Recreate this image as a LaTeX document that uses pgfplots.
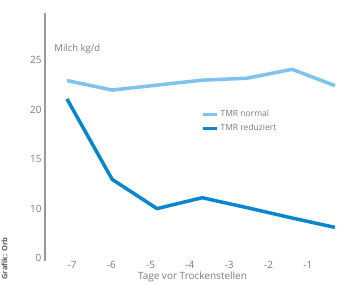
\documentclass[border=0pt]{standalone}
\usepackage{pgfplots}
\pgfplotsset{compat=1.18}
\usepackage{fontspec}
\setmainfont{Open Sans}
\definecolor{lightb}{HTML}{7EC2EE}
\definecolor{darkb}{HTML}{0A86CC}
\definecolor{txt}{HTML}{7A7A7A}
\begin{document}
\begin{tikzpicture}
\useasboundingbox (-45pt,-26pt) rectangle (295pt,258pt);
\begin{axis}[
  at={(0pt,0pt)}, anchor=south west,
  scale only axis, width=295pt, height=245pt,
  xmin=-7.69, xmax=-0.18, ymin=5, ymax=29.8,
  axis x line*=bottom, axis y line*=left,
  x axis line style={draw=none},
  y axis line style={draw=black!40, line width=1.2pt, -, shorten <=-3pt},
  major tick length=0pt,
  xtick={-7,-6,-5,-4,-3,-2,-1},
  ytick={5,10,15,20,25}, yticklabels={0,10,15,20,25},
  ticklabel style={font=\fontsize{10}{12}\selectfont, text=txt},
  /pgf/number format/assume math mode=true,
  xlabel={Tage vor Trockenstellen},
  xlabel style={font=\fontsize{10}{12}\selectfont, text=txt, yshift=4pt},
  clip=false,
  legend style={at={(0.52,0.62)}, anchor=north west, draw=none, fill=none,
    font=\fontsize{8.5}{10}\selectfont, text=txt, row sep=2pt},
  legend cell align=left,
  legend image code/.code={\draw[#1, line width=3pt] (0pt,0pt) -- (14pt,0pt);},
]
\addplot[lightb, line width=3.5pt, line join=round] coordinates {
 (-7.13,22.96) (-5.98,22.0) (-4.84,22.5) (-3.69,23.0) (-2.55,23.2) (-1.40,24.1) (-0.31,22.45)};
\addlegendentry{TMR normal}
\addplot[darkb, line width=3.5pt, line join=round] coordinates {
 (-7.13,21.1) (-5.98,12.96) (-4.84,10.0) (-3.69,11.1) (-2.55,10.1) (-1.40,9.05) (-0.31,8.1)};
\addlegendentry{TMR reduziert}
\node[anchor=north west, font=\fontsize{9.5}{11}\selectfont, text=txt] at (rel axis cs:0.02,0.885) {Milch kg/d};
\end{axis}
\node[rotate=90, anchor=south west, font=\bfseries\fontsize{7.5}{9}\selectfont, text=black!65] at (-34pt,-25pt) {Grafik: Orb};
\end{tikzpicture}
\end{document}
